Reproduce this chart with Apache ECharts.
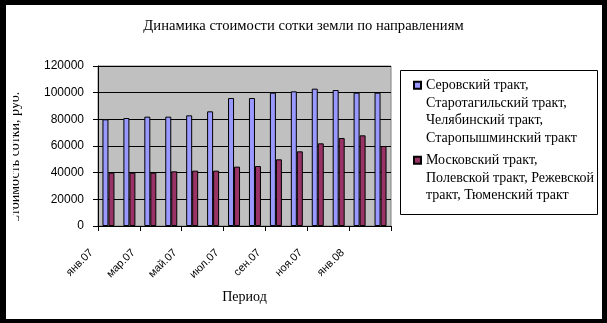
<!DOCTYPE html>
<html>
<head>
<meta charset="utf-8">
<script src="https://cdn.jsdelivr.net/npm/echarts@6/dist/echarts.min.js"></script>
<style>
  html, body { margin: 0; padding: 0; background: #fff; }
  #chart { width: 607px; height: 323px; }
</style>
</head>
<body>
<div id="chart"></div>
<script>
// Months on the category axis
const periods = ['янв.07', 'фев.07', 'мар.07', 'апр.07', 'май.07', 'июн.07', 'июл.07',
                 'авг.07', 'сен.07', 'окт.07', 'ноя.07', 'дек.07', 'янв.08', 'фев.08'];

// Price per "sotka" (100 m²), roubles
const northWestNames = 'Серовский тракт,\nСтаротагильский тракт,\nЧелябинский тракт,\nСтаропышминский тракт';
const northWestValues = [80000, 81000, 82000, 82000, 83000, 86000, 96000,
                         96000, 100000, 101000, 103000, 102000, 100000, 100000];

const southEastNames = 'Московский тракт,\nПолевской тракт, Режевской\nтракт, Тюменский тракт';
const southEastValues = [40000, 40000, 40000, 41000, 41500, 41500, 44500,
                         45000, 50000, 56000, 62000, 66000, 68000, 60000];

const titleText = 'Динамика стоимости сотки земли по направлениям';
const xAxisTitle = 'Период';
const yAxisTitle = 'Стоимость сотки, руб.';

const serif = '"Liberation Serif", "Times New Roman", serif';
const sans = '"Liberation Sans", Arial, sans-serif';

// Legend icon: a 7px square at the top of a tall item, so it sits beside the first text line
function topSquareIcon(h) {
  return 'path://M0,0M0,5h7v7h-7zM0,' + h;
}
const lineH = 17.5;
const legendFont = { fontFamily: serif, fontSize: 14, lineHeight: lineH, color: '#000' };

const chart = echarts.init(document.getElementById('chart'), null, { renderer: 'canvas' });

chart.setOption({
  backgroundColor: '#ffffff',
  animation: false,
  title: {
    text: titleText,
    left: 'center',
    top: 19,
    padding: 0,
    textStyle: { fontFamily: serif, fontSize: 14.6, fontWeight: 'normal', color: '#000' }
  },
  grid: {
    left: 98, top: 66, width: 293, height: 160,
    show: true, backgroundColor: '#c0c0c0', borderColor: '#808080', borderWidth: 1
  },
  legend: [
    {
      data: [northWestNames],
      orient: 'vertical', left: 413, top: 75.75, padding: 0,
      itemWidth: 7, itemHeight: 4 * lineH,
      icon: topSquareIcon(4 * lineH),
      symbolKeepAspect: false,
      textStyle: legendFont
    },
    {
      data: [southEastNames],
      orient: 'vertical', left: 413, top: 150.75, padding: 0,
      itemWidth: 7, itemHeight: 3 * lineH,
      icon: topSquareIcon(3 * lineH),
      symbolKeepAspect: false,
      textStyle: legendFont
    }
  ],
  xAxis: {
    type: 'category',
    data: periods,
    boundaryGap: true,
    name: xAxisTitle,
    nameLocation: 'middle',
    nameGap: 64,
    nameTextStyle: { fontFamily: serif, fontSize: 14, color: '#000' },
    axisLine: { lineStyle: { color: '#000', width: 1 } },
    axisTick: { show: true, interval: 1, length: 5, inside: false, alignWithLabel: false, lineStyle: { color: '#000' } },
    axisLabel: {
      interval: 1, rotate: 45, margin: 8,
      fontFamily: sans, fontSize: 11, color: '#000',
      padding: [0, 24, 0, 0]
    },
    splitLine: { show: false }
  },
  yAxis: {
    type: 'value',
    min: 0, max: 120000, interval: 20000,
    name: yAxisTitle,
    nameLocation: 'middle',
    nameGap: 76,
    nameTextStyle: { fontFamily: serif, fontSize: 14, color: '#000', padding: [0, 24, 0, 0] },
    axisLine: { show: true, lineStyle: { color: '#000', width: 1 } },
    axisTick: { show: true, length: 5, inside: false, lineStyle: { color: '#000' } },
    axisLabel: { margin: 14, fontFamily: sans, fontSize: 12, color: '#000', formatter: v => String(v) },
    splitLine: { show: true, lineStyle: { color: '#000', width: 1 } }
  },
  series: [
    {
      name: northWestNames,
      type: 'bar',
      data: northWestValues,
      barWidth: 6,
      barGap: '0%',
      itemStyle: { color: '#9999ff', borderColor: '#000', borderWidth: 1 }
    },
    {
      name: southEastNames,
      type: 'bar',
      data: southEastValues,
      barWidth: 6,
      barGap: '0%',
      itemStyle: { color: '#993366', borderColor: '#000', borderWidth: 1 }
    }
  ],
  graphic: [
    // legend frame
    { type: 'rect', z: 50, shape: { x: 400.5, y: 70.5, width: 197, height: 144 },
      style: { fill: 'none', stroke: '#000', lineWidth: 1 } },
    // margin strips that trim the vertical axis title
    { type: 'rect', z: 90, shape: { x: 6, y: 40, width: 7, height: 220 }, style: { fill: '#fff' } },
    { type: 'rect', z: 90, shape: { x: 6, y: 221, width: 26, height: 14 }, style: { fill: '#fff' } },
    // outer black frame
    { type: 'rect', z: 100, shape: { x: 0, y: 0, width: 607, height: 5 }, style: { fill: '#000' } },
    { type: 'rect', z: 100, shape: { x: 0, y: 0, width: 6, height: 323 }, style: { fill: '#000' } },
    { type: 'rect', z: 100, shape: { x: 602, y: 0, width: 5, height: 323 }, style: { fill: '#000' } },
    { type: 'rect', z: 100, shape: { x: 0, y: 319, width: 607, height: 4 }, style: { fill: '#000' } }
  ]
});
</script>
</body>
</html>
